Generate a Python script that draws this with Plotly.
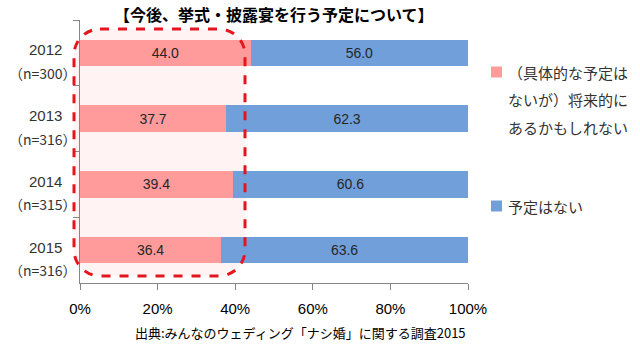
import plotly.graph_objects as go

# ---- data ----
years = ["2012", "2013", "2014", "2015"]
sample_sizes = ["（n=300）", "（n=316）", "（n=315）", "（n=316）"]
maybe_future = [44.0, 37.7, 39.4, 36.4]
no_plan = [56.0, 62.3, 60.6, 63.6]
series_lines = [["（具体的な予定は", "ないが）将来的に", "あるかもしれない"], ["予定はない"]]
series_colors = ["#FF9B9B", "#719FDA"]
x_ticks = [0, 20, 40, 60, 80, 100]
x_ticklabels = ["0%", "20%", "40%", "60%", "80%", "100%"]
title_text = "【今後、挙式・披露宴を行う予定について】"
source_text = "出典:みんなのウェディング「ナシ婚」に関する調査2015"

W, H = 640, 347
ML, MR, MT, MB = 80, 172, 20, 64
PW, PH = W - ML - MR, H - MT - MB

JP = "Noto Sans CJK JP, Noto Sans, sans-serif"
NUM = "Liberation Sans, Noto Sans, sans-serif"

fig = go.Figure()
for vals, lines, col in zip([maybe_future, no_plan], series_lines, series_colors):
    fig.add_trace(go.Bar(
        y=years, x=vals, orientation="h", name="".join(lines),
        marker=dict(color=col, line=dict(width=0)),
        text=[f"{v:.1f}" for v in vals], textposition="inside",
        insidetextanchor="middle",
        textfont=dict(family=NUM, size=14, color="#262626"),
        showlegend=False,
    ))


def px2paper(px, py):
    return (px - ML) / PW, 1 - (py - MT) / PH


def rounded_path(l, t, r, b, rad):
    def P(x, y):
        a, c = px2paper(x, y)
        return f"{a:.5f},{c:.5f}"
    k = 0.45
    return (f"M {P(l + rad, t)} L {P(r - rad, t)} "
            f"C {P(r - rad * k, t)} {P(r, t + rad * k)} {P(r, t + rad)} "
            f"L {P(r, b - rad)} "
            f"C {P(r, b - rad * k)} {P(r - rad * k, b)} {P(r - rad, b)} "
            f"L {P(l + rad, b)} "
            f"C {P(l + rad * k, b)} {P(l, b - rad * k)} {P(l, b - rad)} "
            f"L {P(l, t + rad)} "
            f"C {P(l, t + rad * k)} {P(l + rad * k, t)} {P(l + rad, t)} Z")


box = rounded_path(74, 29, 245, 276, 26)
fig.add_shape(type="path", path=box, xref="paper", yref="paper",
              fillcolor="rgba(255,235,235,0.6)", line=dict(width=0), layer="below")
fig.add_shape(type="path", path=box, xref="paper", yref="paper",
              fillcolor="rgba(0,0,0,0)", line=dict(color="#E3161E", width=3, dash="dash"),
              layer="above")

# category labels (centered, two lines)
for i, (yr, n) in enumerate(zip(years, sample_sizes)):
    fig.add_annotation(x=-35 / PW, xref="paper", y=i, yref="y", text=yr,
                       showarrow=False, xanchor="center", yanchor="middle", yshift=3,
                       font=dict(family=NUM, size=15, color="#333333"))
    fig.add_annotation(x=-37 / PW, xref="paper", y=i, yref="y", text=n,
                       showarrow=False, xanchor="center", yanchor="middle", yshift=-20,
                       font=dict(family=JP, size=14, color="#333333"))

# legend (manual)
leg_x = 496.5
leg_y = [[72, 99, 127], [206]]
for lines, ys, col in zip(series_lines, leg_y, series_colors):
    x0, y0 = px2paper(leg_x - 5.5, ys[0] - 5.5)
    x1, y1 = px2paper(leg_x + 5.5, ys[0] + 5.5)
    fig.add_shape(type="rect", xref="paper", yref="paper", x0=x0, x1=x1, y0=y0, y1=y1,
                  fillcolor=col, line=dict(width=0))
    for i, (ln, yy) in enumerate(zip(lines, ys)):
        ax, ay = px2paper(506, yy)
        fig.add_annotation(x=ax, y=ay, xref="paper", yref="paper", text=ln,
                           showarrow=False, xanchor="left", yanchor="middle",
                           font=dict(family=JP, size=15, color="#333333"))

# title and source
tx, ty = px2paper(274, 14)
fig.add_annotation(x=tx, y=ty, xref="paper", yref="paper", text=f"<b>{title_text}</b>",
                   showarrow=False, xanchor="center", yanchor="middle",
                   font=dict(family=JP, size=16, color="#000000"))
sx, sy = px2paper(300, 332)
fig.add_annotation(x=sx, y=sy, xref="paper", yref="paper", text=source_text,
                   showarrow=False, xanchor="center", yanchor="middle",
                   font=dict(family=JP, size=13, color="#000000"))

fig.update_layout(
    width=W, height=H, margin=dict(l=ML, r=MR, t=MT, b=MB),
    barmode="stack", bargap=0.6,
    plot_bgcolor="rgba(0,0,0,0)", paper_bgcolor="white",
    xaxis=dict(range=[0, 100], tickvals=x_ticks, ticktext=x_ticklabels,
               showgrid=False, zeroline=False, showline=True, linecolor="#868686",
               ticks="outside", ticklen=6, tickcolor="#868686", ticklabelstandoff=6,
               tickfont=dict(family=NUM, size=15, color="#000000"), fixedrange=True),
    yaxis=dict(type="category", categoryorder="array", categoryarray=years,
               range=[3.5, -0.5], showticklabels=False,
               showgrid=False, zeroline=False, showline=True, linecolor="#868686",
               ticks="outside", ticklen=6, tickcolor="#868686", tickson="boundaries"),
)

fig.write_html("out.html")
